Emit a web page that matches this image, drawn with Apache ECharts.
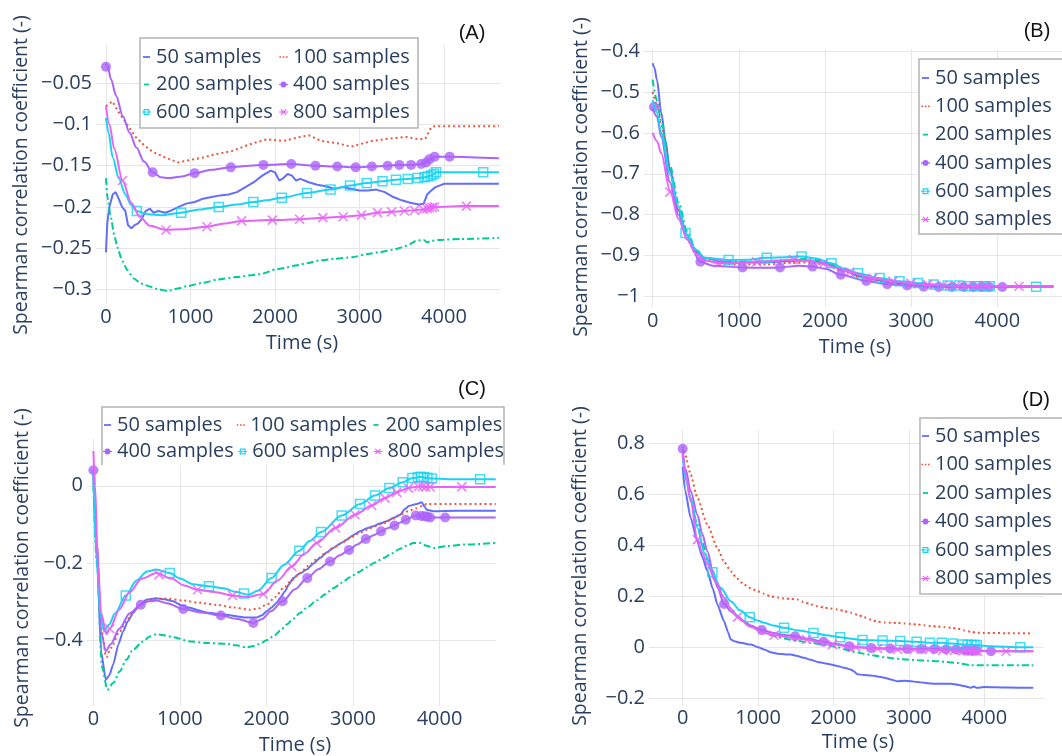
<!DOCTYPE html>
<html><head><meta charset="utf-8">
<script src="https://cdn.jsdelivr.net/npm/echarts@6/dist/echarts.min.js"></script>
<style>html,body{margin:0;padding:0;background:#fff}#c{width:1062px;height:756px}</style>
</head><body><div id="c"></div>
<script>
// ---------------- DATA ----------------
const names = ['50 samples','100 samples','200 samples','400 samples','600 samples','800 samples'];
const xTicks = [0,1000,2000,3000,4000];
const yTicksA = [-0.3,-0.25,-0.2,-0.15,-0.1,-0.05];
const yTicksB = [-1,-0.9,-0.8,-0.7,-0.6,-0.5,-0.4];
const yTicksC = [-0.4,-0.2,0];
const yTicksD = [-0.2,0,0.2,0.4,0.6,0.8];
const panelLabels = ['(A)','(B)','(C)','(D)'];
const xTitle = 'Time (s)';
const yTitle = 'Spearman correlation coefficient (-)';

// Panel A
const A50 = [[0,-0.255],[15,-0.22],[40,-0.20],[80,-0.185],[115,-0.182],[150,-0.19],[190,-0.20],[230,-0.205],[260,-0.222],[300,-0.226],[340,-0.222],[380,-0.22],[420,-0.215],[470,-0.205],[520,-0.202],[560,-0.207],[620,-0.205],[700,-0.207],[780,-0.204],[860,-0.200],[950,-0.196],[1050,-0.194],[1150,-0.190],[1250,-0.188],[1350,-0.186],[1450,-0.185],[1550,-0.182],[1650,-0.176],[1750,-0.170],[1850,-0.162],[1950,-0.156],[2000,-0.158],[2050,-0.168],[2100,-0.165],[2150,-0.160],[2200,-0.162],[2250,-0.168],[2300,-0.166],[2400,-0.170],[2500,-0.173],[2600,-0.175],[2700,-0.178],[2800,-0.176],[2900,-0.178],[3000,-0.180],[3100,-0.180],[3200,-0.179],[3300,-0.182],[3400,-0.188],[3500,-0.192],[3600,-0.195],[3700,-0.197],[3760,-0.196],[3800,-0.185],[3850,-0.180],[3900,-0.176],[4000,-0.172],[4200,-0.172],[4650,-0.172]];
const A100 = [[0,-0.078],[75,-0.072],[150,-0.085],[250,-0.100],[350,-0.115],[450,-0.125],[550,-0.133],[700,-0.140],[850,-0.146],[1000,-0.143],[1150,-0.140],[1300,-0.136],[1500,-0.132],[1700,-0.124],[1900,-0.118],[2100,-0.120],[2300,-0.115],[2400,-0.113],[2550,-0.120],[2750,-0.123],[2900,-0.127],[3000,-0.124],[3150,-0.120],[3350,-0.117],[3550,-0.115],[3700,-0.118],[3780,-0.117],[3850,-0.103],[3900,-0.102],[4650,-0.102]];
const A200 = [[0,-0.165],[20,-0.19],[56,-0.212],[100,-0.235],[135,-0.249],[190,-0.265],[254,-0.277],[330,-0.287],[413,-0.293],[530,-0.297],[620,-0.300],[731,-0.302],[850,-0.299],[969,-0.296],[1150,-0.292],[1327,-0.288],[1550,-0.285],[1724,-0.283],[1850,-0.281],[2002,-0.276],[2120,-0.274],[2240,-0.271],[2400,-0.268],[2518,-0.265],[2700,-0.263],[2915,-0.261],[3100,-0.257],[3233,-0.255],[3400,-0.252],[3511,-0.249],[3600,-0.245],[3670,-0.241],[3760,-0.240],[3800,-0.243],[3850,-0.241],[3950,-0.240],[4200,-0.239],[4650,-0.2375]];
const A400 = [[0,-0.026],[20,-0.03],[60,-0.045],[120,-0.065],[200,-0.09],[280,-0.11],[360,-0.128],[450,-0.145],[552,-0.158],[650,-0.164],[750,-0.165],[900,-0.163],[1049,-0.159],[1250,-0.155],[1478,-0.152],[1700,-0.150],[1863,-0.149],[2193,-0.148],[2479,-0.150],[2737,-0.151],[2955,-0.152],[3146,-0.151],[3333,-0.150],[3472,-0.149],[3611,-0.149],[3730,-0.148],[3789,-0.146],[3829,-0.142],[3889,-0.139],[4067,-0.139],[4650,-0.141]];
const A400m = [[0,-0.03],[552,-0.158],[1049,-0.159],[1478,-0.152],[1863,-0.149],[2193,-0.148],[2479,-0.150],[2737,-0.151],[2955,-0.152],[3146,-0.151],[3333,-0.150],[3472,-0.149],[3611,-0.149],[3730,-0.148],[3789,-0.146],[3829,-0.142],[3889,-0.139],[4067,-0.139]];
const A600 = [[0,-0.092],[30,-0.11],[80,-0.14],[150,-0.165],[230,-0.185],[300,-0.198],[365,-0.205],[500,-0.209],[650,-0.210],[890,-0.207],[1100,-0.203],[1335,-0.200],[1550,-0.197],[1744,-0.194],[1900,-0.192],[2081,-0.189],[2379,-0.183],[2657,-0.179],[2888,-0.174],[3086,-0.171],[3273,-0.169],[3432,-0.167],[3571,-0.166],[3690,-0.165],[3769,-0.164],[3849,-0.162],[3908,-0.158],[4100,-0.158],[4650,-0.158]];
const A600m = [[365,-0.205],[890,-0.207],[1335,-0.200],[1744,-0.194],[2081,-0.189],[2379,-0.183],[2657,-0.179],[2888,-0.174],[3086,-0.171],[3273,-0.169],[3432,-0.167],[3571,-0.166],[3690,-0.165],[3769,-0.164],[3810,-0.163],[3849,-0.162],[3880,-0.160],[3908,-0.158],[4465,-0.158]];
const A800 = [[0,-0.078],[40,-0.10],[100,-0.13],[195,-0.168],[300,-0.195],[400,-0.212],[520,-0.223],[711,-0.228],[900,-0.227],[1196,-0.224],[1400,-0.220],[1605,-0.217],[1970,-0.216],[2292,-0.215],[2566,-0.213],[2808,-0.212],[3023,-0.210],[3213,-0.207],[3380,-0.206],[3531,-0.205],[3650,-0.204],[3757,-0.203],[3829,-0.201],[3889,-0.200],[4266,-0.199],[4650,-0.199]];
const A800m = [[195,-0.168],[711,-0.228],[1196,-0.224],[1605,-0.217],[1970,-0.216],[2292,-0.215],[2566,-0.213],[2808,-0.212],[3023,-0.210],[3213,-0.207],[3380,-0.206],[3531,-0.205],[3650,-0.204],[3757,-0.203],[3800,-0.202],[3829,-0.201],[3860,-0.2005],[3889,-0.200],[4266,-0.199]];

// Panel B
const B50 = [[0,-0.43],[20,-0.44],[50,-0.47],[100,-0.55],[150,-0.62],[200,-0.69],[300,-0.79],[400,-0.85],[500,-0.89],[600,-0.905],[800,-0.915],[1000,-0.917],[1300,-0.917],[1600,-0.913],[1800,-0.912],[2000,-0.918],[2200,-0.935],[2400,-0.950],[2600,-0.960],[2800,-0.967],[3000,-0.970],[3400,-0.973],[3800,-0.975],[4650,-0.975]];
const B100 = [[0,-0.50],[50,-0.53],[100,-0.58],[200,-0.70],[300,-0.79],[400,-0.86],[500,-0.895],[600,-0.91],[800,-0.92],[1000,-0.922],[1300,-0.922],[1600,-0.918],[1800,-0.917],[2000,-0.922],[2200,-0.937],[2400,-0.952],[2600,-0.962],[2800,-0.968],[3000,-0.971],[3400,-0.974],[3800,-0.976],[4650,-0.976]];
const B200 = [[0,-0.47],[50,-0.52],[100,-0.57],[200,-0.68],[300,-0.77],[400,-0.84],[500,-0.885],[600,-0.905],[800,-0.913],[1000,-0.915],[1300,-0.914],[1600,-0.910],[1800,-0.908],[2000,-0.915],[2200,-0.932],[2400,-0.948],[2600,-0.958],[2800,-0.966],[3000,-0.970],[3400,-0.973],[3800,-0.975],[4650,-0.975]];
const B400 = [[0,-0.54],[50,-0.56],[100,-0.61],[200,-0.72],[300,-0.80],[400,-0.86],[554,-0.915],[700,-0.925],[1043,-0.929],[1300,-0.93],[1478,-0.929],[1700,-0.925],[1856,-0.927],[2000,-0.932],[2183,-0.947],[2479,-0.962],[2722,-0.970],[2953,-0.973],[3145,-0.976],[3400,-0.977],[3900,-0.977],[4650,-0.977]];
const B400m = [[15,-0.537],[554,-0.915],[1043,-0.929],[1478,-0.929],[1856,-0.927],[2183,-0.947],[2479,-0.962],[2722,-0.970],[2953,-0.973],[3145,-0.976],[3319,-0.977],[3473,-0.977],[3607,-0.977],[3723,-0.977],[3819,-0.977],[3904,-0.977],[4058,-0.977]];
const B600 = [[0,-0.52],[50,-0.55],[100,-0.60],[200,-0.70],[300,-0.78],[381,-0.845],[500,-0.885],[600,-0.905],[882,-0.911],[1100,-0.910],[1324,-0.905],[1550,-0.904],[1729,-0.902],[1900,-0.907],[2075,-0.919],[2230,-0.932],[2383,-0.943],[2633,-0.955],[2864,-0.963],[3076,-0.967],[3261,-0.971],[3423,-0.973],[3673,-0.975],[4000,-0.975],[4650,-0.976]];
const B600m = [[381,-0.845],[882,-0.911],[1324,-0.905],[1729,-0.902],[2075,-0.919],[2383,-0.943],[2633,-0.955],[2864,-0.963],[3076,-0.967],[3261,-0.971],[3423,-0.973],[3557,-0.973],[3673,-0.975],[3769,-0.975],[3846,-0.975],[3911,-0.975],[4450,-0.976]];
const B800 = [[0,-0.60],[50,-0.62],[100,-0.65],[200,-0.74],[300,-0.81],[400,-0.86],[500,-0.895],[600,-0.912],[766,-0.918],[1000,-0.918],[1209,-0.915],[1400,-0.913],[1632,-0.910],[1800,-0.912],[1979,-0.920],[2130,-0.930],[2287,-0.940],[2556,-0.955],[2787,-0.963],[2999,-0.968],[3191,-0.971],[3365,-0.973],[3653,-0.975],[4250,-0.975],[4650,-0.975]];
const B800m = [[200,-0.745],[766,-0.918],[1209,-0.915],[1632,-0.910],[1979,-0.920],[2287,-0.940],[2556,-0.955],[2787,-0.963],[2999,-0.968],[3191,-0.971],[3365,-0.973],[3519,-0.973],[3653,-0.975],[3769,-0.975],[3865,-0.975],[4250,-0.975]];

// Panel C
const C50 = [[0,0.03],[40,-0.18],[90,-0.43],[143,-0.502],[185,-0.49],[228,-0.463],[290,-0.41],[343,-0.377],[400,-0.35],[459,-0.329],[530,-0.31],[613,-0.295],[729,-0.291],[820,-0.294],[922,-0.299],[1020,-0.31],[1115,-0.316],[1210,-0.322],[1307,-0.328],[1420,-0.331],[1539,-0.334],[1650,-0.338],[1770,-0.341],[1886,-0.341],[1950,-0.335],[2002,-0.325],[2060,-0.315],[2118,-0.303],[2160,-0.29],[2214,-0.273],[2260,-0.255],[2310,-0.239],[2380,-0.228],[2465,-0.217],[2540,-0.202],[2619,-0.187],[2700,-0.172],[2773,-0.161],[2850,-0.15],[2927,-0.140],[3000,-0.128],[3082,-0.118],[3160,-0.11],[3236,-0.105],[3310,-0.098],[3390,-0.092],[3470,-0.083],[3545,-0.075],[3600,-0.06],[3650,-0.052],[3737,-0.047],[3795,-0.043],[3830,-0.055],[3853,-0.062],[3930,-0.066],[4200,-0.065],[4650,-0.065]];
const C100 = [[0,0.02],[40,-0.15],[90,-0.37],[150,-0.444],[200,-0.42],[305,-0.377],[380,-0.35],[459,-0.325],[550,-0.305],[652,-0.295],[845,-0.292],[1038,-0.297],[1230,-0.303],[1423,-0.308],[1616,-0.315],[1809,-0.321],[1900,-0.318],[2002,-0.308],[2100,-0.288],[2195,-0.265],[2290,-0.245],[2388,-0.226],[2480,-0.208],[2580,-0.191],[2680,-0.175],[2773,-0.161],[2870,-0.148],[2966,-0.135],[3060,-0.124],[3159,-0.114],[3250,-0.105],[3352,-0.097],[3450,-0.086],[3545,-0.075],[3640,-0.066],[3737,-0.058],[3800,-0.052],[3853,-0.047],[4100,-0.047],[4650,-0.047]];
const C200 = [[0,0.0],[40,-0.2],[100,-0.47],[162,-0.528],[230,-0.51],[305,-0.480],[380,-0.45],[459,-0.424],[575,-0.403],[650,-0.39],[729,-0.384],[822,-0.387],[922,-0.392],[1115,-0.403],[1307,-0.407],[1539,-0.409],[1650,-0.413],[1770,-0.418],[1850,-0.415],[1925,-0.409],[2000,-0.40],[2079,-0.390],[2160,-0.375],[2233,-0.359],[2310,-0.344],[2388,-0.329],[2480,-0.313],[2580,-0.297],[2680,-0.281],[2773,-0.265],[2870,-0.251],[2966,-0.237],[3060,-0.224],[3159,-0.211],[3250,-0.199],[3352,-0.187],[3450,-0.175],[3545,-0.163],[3620,-0.155],[3699,-0.148],[3776,-0.148],[3850,-0.155],[3930,-0.161],[4100,-0.156],[4300,-0.152],[4650,-0.148]];
const C400 = [[0,0.04],[40,-0.15],[90,-0.38],[143,-0.428],[200,-0.41],[300,-0.37],[420,-0.33],[548,-0.308],[640,-0.299],[729,-0.297],[850,-0.304],[1038,-0.319],[1250,-0.328],[1473,-0.336],[1650,-0.344],[1848,-0.355],[1950,-0.345],[2050,-0.325],[2187,-0.299],[2330,-0.268],[2472,-0.239],[2600,-0.216],[2735,-0.196],[2850,-0.180],[2954,-0.166],[3050,-0.152],[3147,-0.138],[3240,-0.128],[3325,-0.118],[3400,-0.110],[3479,-0.103],[3545,-0.095],[3610,-0.088],[3670,-0.082],[3726,-0.077],[3790,-0.078],[3840,-0.080],[3892,-0.082],[4065,-0.082],[4650,-0.082]];
const C400m = [[0,0.04],[548,-0.308],[1038,-0.319],[1473,-0.336],[1848,-0.355],[2187,-0.299],[2472,-0.239],[2735,-0.196],[2954,-0.166],[3147,-0.138],[3325,-0.118],[3479,-0.103],[3610,-0.088],[3726,-0.077],[3790,-0.078],[3830,-0.079],[3860,-0.080],[3892,-0.082],[4065,-0.082]];
const C600 = [[0,0.03],[40,-0.2],[80,-0.33],[123,-0.377],[180,-0.36],[250,-0.33],[374,-0.284],[500,-0.245],[620,-0.222],[729,-0.217],[883,-0.226],[1000,-0.24],[1150,-0.255],[1335,-0.260],[1500,-0.265],[1650,-0.275],[1790,-0.282],[1900,-0.272],[2060,-0.239],[2200,-0.205],[2380,-0.168],[2500,-0.143],[2630,-0.120],[2870,-0.077],[3082,-0.047],[3255,-0.025],[3421,-0.006],[3575,0.009],[3687,0.020],[3784,0.023],[3850,0.020],[3911,0.019],[4100,0.017],[4650,0.017]];
const C600m = [[374,-0.284],[883,-0.226],[1335,-0.260],[1740,-0.279],[2060,-0.239],[2380,-0.168],[2630,-0.120],[2870,-0.077],[3082,-0.047],[3255,-0.025],[3421,-0.006],[3575,0.009],[3687,0.020],[3750,0.022],[3784,0.023],[3820,0.022],[3860,0.021],[3911,0.019],[4470,0.017]];
const C800 = [[0,0.09],[20,0.0],[50,-0.2],[90,-0.33],[150,-0.384],[189,-0.37],[300,-0.32],[420,-0.275],[560,-0.24],[729,-0.226],[900,-0.24],[1050,-0.258],[1203,-0.269],[1400,-0.275],[1608,-0.284],[1770,-0.288],[1963,-0.280],[2130,-0.245],[2291,-0.209],[2440,-0.176],[2580,-0.148],[2800,-0.109],[3024,-0.075],[3217,-0.051],[3371,-0.032],[3506,-0.017],[3641,-0.006],[3757,-0.002],[3892,-0.003],[4258,-0.003],[4650,-0.003]];
const C800m = [[189,-0.37],[760,-0.230],[1203,-0.269],[1608,-0.284],[1963,-0.280],[2291,-0.209],[2580,-0.148],[2800,-0.109],[3024,-0.075],[3217,-0.051],[3371,-0.032],[3506,-0.017],[3641,-0.006],[3757,-0.002],[3800,-0.002],[3840,-0.003],[3892,-0.003],[4258,-0.003]];

// Panel D
const D50 = [[0,0.71],[30,0.62],[106,0.508],[195,0.416],[260,0.355],[327,0.299],[400,0.23],[460,0.168],[549,0.102],[600,0.06],[637,0.030],[700,0.022],[770,0.017],[903,0.010],[1000,0.0],[1080,-0.009],[1170,-0.02],[1257,-0.026],[1434,-0.029],[1520,-0.035],[1611,-0.042],[1700,-0.05],[1788,-0.058],[1880,-0.063],[1965,-0.068],[2050,-0.074],[2142,-0.081],[2230,-0.088],[2270,-0.095],[2319,-0.107],[2400,-0.109],[2496,-0.111],[2580,-0.115],[2673,-0.120],[2760,-0.127],[2850,-0.134],[2940,-0.132],[3027,-0.134],[3110,-0.137],[3204,-0.140],[3300,-0.143],[3381,-0.144],[3470,-0.144],[3558,-0.144],[3650,-0.148],[3735,-0.153],[3800,-0.158],[3823,-0.160],[3860,-0.155],[3900,-0.160],[4000,-0.157],[4300,-0.159],[4650,-0.160]];
const D100 = [[0,0.79],[30,0.76],[106,0.678],[195,0.587],[327,0.482],[460,0.390],[550,0.335],[637,0.299],[720,0.27],[814,0.246],[900,0.232],[991,0.220],[1080,0.21],[1168,0.200],[1260,0.195],[1345,0.191],[1430,0.19],[1522,0.187],[1600,0.178],[1699,0.168],[1790,0.161],[1876,0.155],[1960,0.152],[2053,0.148],[2140,0.142],[2230,0.135],[2320,0.127],[2407,0.118],[2500,0.108],[2584,0.100],[2680,0.097],[2761,0.096],[2850,0.095],[2938,0.093],[3030,0.091],[3115,0.089],[3200,0.086],[3292,0.083],[3380,0.081],[3469,0.079],[3560,0.076],[3646,0.073],[3730,0.066],[3823,0.060],[3900,0.057],[4000,0.056],[4300,0.055],[4650,0.054]];
const D200 = [[0,0.75],[40,0.68],[106,0.58],[195,0.482],[260,0.41],[327,0.344],[400,0.29],[460,0.246],[550,0.195],[637,0.154],[720,0.125],[814,0.102],[900,0.084],[991,0.069],[1080,0.057],[1168,0.047],[1260,0.04],[1345,0.034],[1430,0.029],[1522,0.024],[1699,0.017],[1876,0.010],[2053,0.0],[2140,-0.008],[2230,-0.016],[2320,-0.021],[2407,-0.026],[2500,-0.031],[2584,-0.035],[2700,-0.041],[2850,-0.046],[2980,-0.049],[3115,-0.051],[3250,-0.053],[3381,-0.055],[3500,-0.058],[3646,-0.062],[3740,-0.067],[3823,-0.071],[4000,-0.071],[4650,-0.071]];
const D400 = [[0,0.78],[40,0.70],[106,0.613],[195,0.521],[260,0.445],[327,0.377],[400,0.30],[460,0.235],[549,0.170],[640,0.14],[726,0.122],[820,0.10],[900,0.085],[1049,0.067],[1200,0.056],[1350,0.048],[1491,0.043],[1680,0.032],[1867,0.021],[2040,0.012],[2208,0.004],[2350,0.0],[2496,-0.003],[2752,-0.005],[2974,-0.007],[3168,-0.007],[3337,-0.007],[3491,-0.009],[3624,-0.009],[3735,-0.013],[3890,-0.013],[4089,-0.016],[4650,-0.016]];
const D400m = [[0,0.78],[549,0.170],[1049,0.067],[1491,0.043],[1867,0.021],[2208,0.004],[2496,-0.003],[2752,-0.005],[2974,-0.007],[3168,-0.007],[3337,-0.007],[3491,-0.009],[3624,-0.009],[3735,-0.012],[3780,-0.013],[3820,-0.013],[3860,-0.013],[3890,-0.013],[4089,-0.016]];
const D600 = [[0,0.76],[40,0.66],[106,0.587],[195,0.469],[290,0.37],[394,0.295],[500,0.235],[637,0.181],[760,0.145],[889,0.118],[1000,0.104],[1080,0.096],[1200,0.085],[1345,0.076],[1540,0.066],[1735,0.056],[1900,0.047],[2089,0.039],[2240,0.033],[2385,0.028],[2651,0.026],[2885,0.024],[3102,0.021],[3279,0.017],[3438,0.017],[3580,0.014],[3713,0.010],[3890,0.008],[4100,0.004],[4478,0.0],[4650,0.0]];
const D600m = [[394,0.295],[889,0.118],[1345,0.076],[1735,0.056],[2089,0.039],[2385,0.028],[2651,0.026],[2885,0.024],[3102,0.021],[3279,0.017],[3438,0.017],[3580,0.014],[3713,0.010],[3780,0.009],[3830,0.008],[3870,0.008],[3900,0.008],[4478,0.0]];
const D800 = [[0,0.76],[40,0.68],[106,0.573],[195,0.423],[260,0.37],[327,0.325],[440,0.255],[549,0.194],[640,0.15],[726,0.118],[900,0.08],[1080,0.056],[1212,0.047],[1420,0.038],[1642,0.030],[1800,0.02],[1987,0.010],[2297,0.0],[2584,-0.005],[2850,-0.009],[3071,-0.009],[3270,-0.010],[3447,-0.012],[3602,-0.013],[3750,-0.014],[3912,-0.016],[4288,-0.016],[4650,-0.016]];
const D800m = [[195,0.423],[726,0.118],[1212,0.047],[1642,0.030],[1987,0.010],[2297,0.0],[2584,-0.005],[2850,-0.009],[3071,-0.009],[3270,-0.010],[3447,-0.012],[3602,-0.013],[3720,-0.014],[3790,-0.015],[3840,-0.015],[3880,-0.016],[3912,-0.016],[4288,-0.016]];

// ---------------- STYLE / LAYOUT ----------------
const FONT = 'Open Sans';
const TXT = '#2a3f5f';
const GRIDC = '#e6e6e6';
const BORDER = '#b4b4b4';
const colors = ['#636efa','#ef553b','#00cc96','#ab63fa','#19d3f3','#e763fa'];
const dashes = ['solid',[2,3],[7,3,2,3],'solid','solid','solid'];
const XPATH = 'path://M0,0L10,10M10,0L0,10';
const symDefs = [
  null, null, null,
  {symbol:'circle', size:10, item:{color:'#ab63fa'}},
  {symbol:'rect', size:9, item:{color:'rgba(255,255,255,0)', borderColor:'#19d3f3', borderWidth:1.5}},
  {symbol:XPATH, size:9, item:{color:'rgba(0,0,0,0)', borderColor:'#e763fa', borderWidth:1.6}}
];
// small legend glyphs (9x8 box anchored by the two leading moveTo points)
const legendIcons = [
  'path://M0,0M9,8M1,3.1L8,3.1L8,4.9L1,4.9Z',
  'path://M0,0M9,8M0.4,3.2L2,3.2L2,4.8L0.4,4.8ZM3.7,3.2L5.3,3.2L5.3,4.8L3.7,4.8ZM7,3.2L8.6,3.2L8.6,4.8L7,4.8Z',
  'path://M0,0M9,8M2,3.1L7,3.1L7,4.9L2,4.9Z',
  'path://M0,0M9,8M0,3.4L9,3.4L9,4.6L0,4.6ZM1.6,4A2.9,2.9 0 1,1 7.4,4A2.9,2.9 0 1,1 1.6,4Z',
  'path://M0,0M9,8M1.5,1L7.5,1L7.5,7L1.5,7ZM2.7,2.2L2.7,5.8L6.3,5.8L6.3,2.2ZM0,3.5L9,3.5L9,4.5L0,4.5Z',
  'path://M0,0M9,8M2.22,0.88L7.62,6.28L6.78,7.12L1.38,1.72ZM7.62,1.72L2.22,7.12L1.38,6.28L6.78,0.88ZM0,3.4L9,3.4L9,4.6L0,4.6Z'
];

// frame: 'box' = legend's own border; 'open' = box running off the right edge; 'noBottom' = three sides
const panels = [
  {lines:[A50,A100,A200,A400,A600,A800], marks:[null,null,null,A400m,A600m,A800m], smooth:[0,0,0.2,0.3,0.3,0.3],
   grid:{left:96, top:45, width:404, height:258}, x:[-118,4663], y:[-0.3166,-0.0035], yTicks:yTicksA, labMargin:4,
   legend:{left:140, top:38, orient:'horizontal', width:272, textW:117.5, gap:5.5, padding:[8,7.5,5,2], frame:'box'},
   lab:[472,33], xt:[302,343], yt:[21,175]},
  {lines:[B50,B100,B200,B400,B600,B800], marks:[null,null,null,B400m,B600m,B800m], smooth:[0.3,0.3,0.3,0.3,0.3,0.3],
   grid:{left:644, top:49, width:421, height:258}, x:[-100,4750], y:[-1.0257,-0.395], yTicks:yTicksB, labMargin:4,
   legend:{left:919, top:59, orient:'vertical', textW:118, gap:6.3, padding:[8,4,4,2], frame:'open', box:[919,59,200,175]},
   lab:[1037,31], xt:[855,347], yt:[581,177]},
  {lines:[C50,C100,C200,C400,C600,C800], marks:[null,null,null,C400m,C600m,C800m], smooth:[0.2,0.3,0.3,0.3,0.3,0.3],
   grid:{left:87, top:439, width:409, height:267}, x:[-74,4653], y:[-0.57,0.121], yTicks:yTicksC, labMargin:3,
   legend:{left:102, top:407, orient:'horizontal', width:402, textW:114.8, gap:4.5, padding:[7,3.6,3,1], frame:'noBottom', box:[102,407,402,58]},
   lab:[472,389], xt:[295,745], yt:[22,568]},
  {lines:[D50,D100,D200,D400,D600,D800], marks:[null,null,null,D400m,D600m,D800m], smooth:[0.2,0.2,0.3,0.3,0.3,0.3],
   grid:{left:649, top:430, width:395, height:276}, x:[-447,4792], y:[-0.2314,0.854], yTicks:yTicksD, labMargin:2,
   legend:{left:919, top:418, orient:'vertical', textW:118, gap:6.5, padding:[7,4,4,2], frame:'open', box:[920,418,200,176]},
   lab:[1036,400], xt:[858,742], yt:[580,566]}
];

const fmt = v => (v < 0 ? '\u2212' : '') + String(Math.abs(Math.round(v * 1000) / 1000));

const option = {
  backgroundColor:'#fff', animation:false,
  grid:[], xAxis:[], yAxis:[], series:[], legend:[], graphic:[]
};

const legendData = names.map((nm, k) => ({name:nm, icon:legendIcons[k],
  itemStyle:{color:colors[k], borderWidth:0, opacity:1}}));

panels.forEach((p, i) => {
  option.grid.push(Object.assign({containLabel:false}, p.grid));
  option.xAxis.push({type:'value', gridIndex:i, min:p.x[0], max:p.x[1],
    axisLine:{show:false}, axisTick:{show:false, customValues:xTicks},
    axisLabel:{customValues:xTicks, color:TXT, fontSize:20, fontFamily:FONT, margin:p.labMargin, formatter:fmt},
    splitLine:{show:true, lineStyle:{color:GRIDC, width:1}}});
  option.yAxis.push({type:'value', gridIndex:i, min:p.y[0], max:p.y[1],
    axisLine:{show:false}, axisTick:{show:false, customValues:p.yTicks},
    axisLabel:{customValues:p.yTicks, color:TXT, fontSize:20, fontFamily:FONT, margin:4, formatter:fmt},
    splitLine:{show:true, lineStyle:{color:GRIDC, width:1}}});
  names.forEach((nm, k) => {
    const sd = symDefs[k];
    option.series.push({type:'line', name:nm, xAxisIndex:i, yAxisIndex:i, data:p.lines[k],
      showSymbol:false, symbol: sd ? sd.symbol : 'none', symbolSize: sd ? sd.size : 0,
      smooth: p.smooth[k] || false, smoothMonotone:'x',
      lineStyle:{color:colors[k], width:2, type:dashes[k]},
      itemStyle: sd ? sd.item : {color:colors[k]}, z:2+k, silent:true});
    if (sd && p.marks[k]) {
      option.series.push({type:'scatter', name:nm, xAxisIndex:i, yAxisIndex:i, data:p.marks[k],
        symbol:sd.symbol, symbolSize:sd.size, itemStyle:sd.item, z:2+k, silent:true});
    }
  });
  const L = p.legend;
  const own = L.frame === 'box';
  const leg = {data:legendData, selectedMode:false, left:L.left, top:L.top, orient:L.orient,
    itemWidth:9, itemHeight:8, itemGap:L.gap, padding:L.padding,
    backgroundColor: own ? '#fff' : 'rgba(0,0,0,0)', borderColor:BORDER, borderWidth: own ? 1.5 : 0,
    textStyle:{color:TXT, fontSize:20, fontFamily:FONT, width:L.textW, lineHeight:22}, z:10};
  if (L.width) leg.width = L.width;
  option.legend.push(leg);
  if (!own) {
    const b = L.box;
    option.graphic.push({type:'rect', z:9, silent:true,
      shape:{x:b[0], y:b[1], width:b[2], height:b[3]},
      style:{fill:'#fff', stroke: L.frame === 'open' ? BORDER : null, lineWidth:1.5}});
    if (L.frame === 'noBottom') {
      option.graphic.push({type:'polyline', z:9, silent:true,
        shape:{points:[[b[0],b[1]+b[3]],[b[0],b[1]],[b[0]+b[2],b[1]],[b[0]+b[2],b[1]+b[3]]]},
        style:{fill:null, stroke:BORDER, lineWidth:1.5}});
    }
  }
  option.graphic.push({type:'text', x:p.lab[0], y:p.lab[1], z:20,
    style:{text:panelLabels[i], fill:'#111', font:'20px "Liberation Sans", Arial', textAlign:'center', textVerticalAlign:'middle'}});
  option.graphic.push({type:'text', x:p.xt[0], y:p.xt[1], z:20,
    style:{text:xTitle, fill:TXT, font:'20px "' + FONT + '"', textAlign:'center', textVerticalAlign:'middle'}});
  option.graphic.push({type:'text', x:p.yt[0], y:p.yt[1], rotation:Math.PI/2, z:20,
    style:{text:yTitle, fill:TXT, font:'19.5px "' + FONT + '"', textAlign:'center', textVerticalAlign:'middle'}});
});

const chart = echarts.init(document.getElementById('c'));
chart.setOption(option);
</script></body></html>
